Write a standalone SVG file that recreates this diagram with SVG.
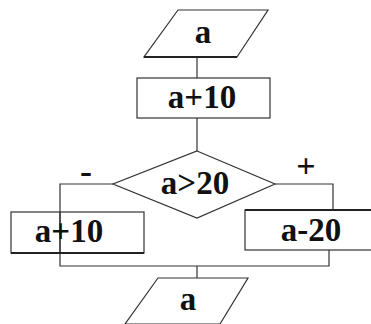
<svg xmlns="http://www.w3.org/2000/svg" width="371" height="324" viewBox="0 0 371 324">
<style>
.s{fill:#fff;stroke:#333;stroke-width:1.2}
.c{fill:none;stroke:#333;stroke-width:1.2}
.t{font-family:"Liberation Serif","Times New Roman",serif;font-weight:bold;font-size:33px;fill:#111;text-anchor:middle}
.k{stroke:#222;stroke-width:2.2}
</style>
<rect width="371" height="324" fill="#fff"/>
<g id="connectors">
<line class="c" x1="197" y1="57" x2="197" y2="78"/>
<line class="c" x1="197" y1="118" x2="197" y2="151"/>
<polyline class="c" points="113,184 60,184 60,266 329,266 329,250"/>
<polyline class="c" points="275,184 333,184 333,210"/>
<line class="c" x1="197" y1="266" x2="197" y2="278"/>
</g>
<g id="input">
<polygon class="s" points="178,10 268,10 237,57 144,57"/>
<line class="k" x1="144" y1="57" x2="237" y2="57"/>
<text class="t" x="203" y="43">a</text>
</g>
<g id="calc1">
<rect class="s" x="137" y="78" width="133" height="40"/>
<text class="t" x="202" y="108">a+10</text>
</g>
<g id="decision">
<polygon class="s" points="197,151 275,184 197,218 113,184"/>
<text class="t" x="195" y="194">a&gt;20</text>
</g>
<g id="labels">
<text class="t" x="86" y="183" style="font-size:36px">-</text>
<text class="t" x="306" y="177" style="font-size:34px">+</text>
</g>
<g id="calc-left">
<rect class="s" x="11" y="212" width="133" height="41" fill-opacity="0"/>
<line class="c" x1="60" y1="212" x2="60" y2="253"/>
<line class="k" x1="11" y1="253" x2="144" y2="253"/>
<text class="t" x="69" y="242">a+10</text>
</g>
<g id="calc-right">
<rect class="s" x="245" y="210" width="130" height="40"/>
<line class="k" x1="245" y1="210" x2="371" y2="210"/>
<text class="t" x="311" y="241">a-20</text>
</g>
<g id="output">
<polygon class="s" points="158,278 248,278 220,324 125,324"/>
<text class="t" x="188" y="310">a</text>
</g>
</svg>
